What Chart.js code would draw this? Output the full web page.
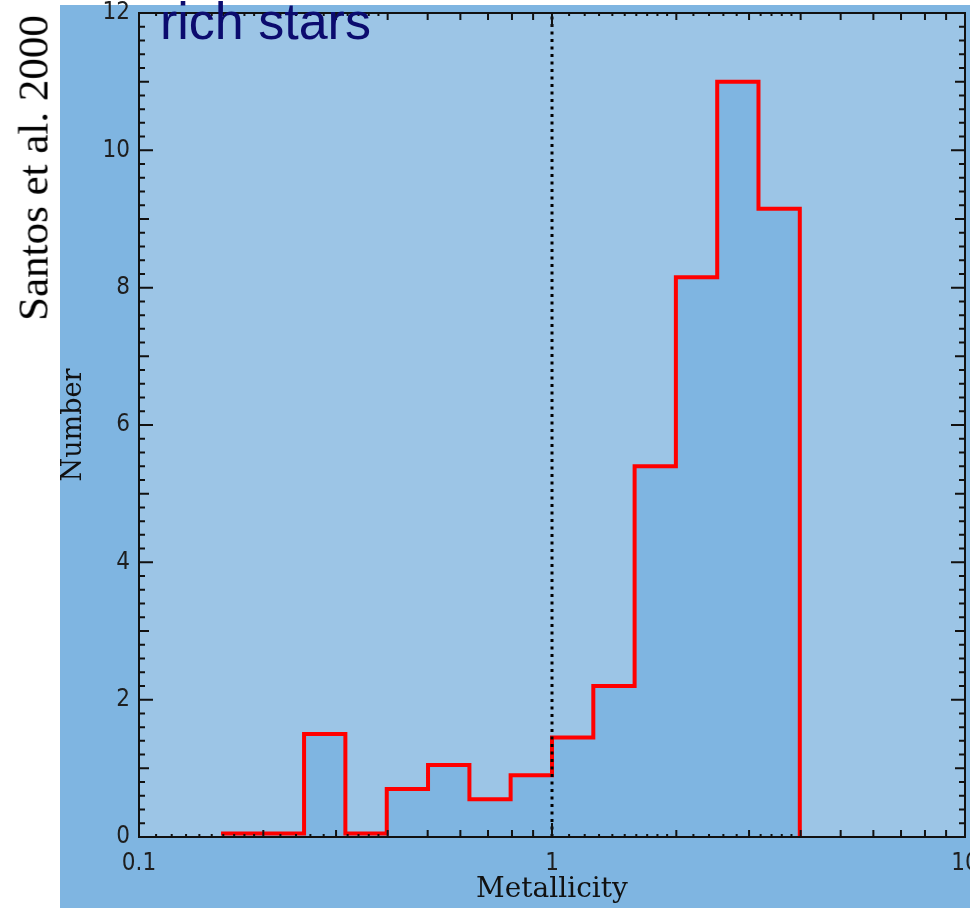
<!DOCTYPE html>
<html>
<head>
<meta charset="utf-8">
<script src="https://cdn.jsdelivr.net/npm/chart.js@4.4.0/dist/chart.umd.min.js"></script>
<style>
  html, body { margin: 0; padding: 0; background: #ffffff; }
  #wrap { position: relative; width: 970px; height: 908px; overflow: hidden; }
  #c { position: absolute; left: 0; top: 0; }
  .src {
    position: absolute; left: 33px; top: 168px;
    transform: translate(-50%, -50%) rotate(-90deg);
    font-family: 'Liberation Serif', 'Times New Roman', serif;
    font-size: 43px; line-height: 1; white-space: nowrap; color: #000;
  }
  .note {
    position: absolute; left: 160px; top: -5px;
    font-family: 'Liberation Sans', Arial, sans-serif;
    font-size: 52px; line-height: 1; white-space: nowrap; color: #0b0b6e;
  }
</style>
</head>
<body>
<div id="wrap">
  <canvas id="c" width="970" height="908"></canvas>
  <div class="src">Santos et al. 2000</div>
  <div class="note">rich stars</div>
</div>
<script>
// Metallicity histogram bins (0.1 dex wide, edges in solar units)
const binEdges = [0.158, 0.200, 0.251, 0.316, 0.398, 0.501, 0.631, 0.794,
                  1.000, 1.259, 1.585, 1.995, 2.512, 3.162, 3.981];
// Number of stars per bin
const counts = [0.05, 0.05, 1.5, 0.05, 0.7, 1.05, 0.55, 0.9,
                1.45, 2.2, 5.4, 8.15, 11.0, 9.15];
// Axis ticks
const xTickValues = [0.1, 1, 10];
const yTickValues = [0, 2, 4, 6, 8, 10, 12];
// Solar metallicity marker
const solarValue = 1;

const OUTER_BLUE = '#7fb5e1';
const INNER_BLUE = '#9cc5e6';
const TICK_FONT = { family: "'Liberation Sans Narrow', 'DejaVu Sans Condensed', sans-serif", size: 24 };

// Step outline: each bin value holds from its left edge to the next edge
const histPoints = counts.map((v, i) => ({ x: binEdges[i], y: v }));
histPoints.push({ x: binEdges[binEdges.length - 1], y: 0 });

const backdrop = {
  id: 'backdrop',
  beforeDraw(chart) {
    const { ctx, chartArea: a } = chart;
    ctx.save();
    ctx.fillStyle = '#ffffff';
    ctx.fillRect(0, 0, chart.width, chart.height);
    ctx.fillStyle = OUTER_BLUE;
    ctx.fillRect(60, 5, chart.width - 60, chart.height - 5);
    ctx.fillStyle = INNER_BLUE;
    ctx.fillRect(a.left, a.top, a.right - a.left, a.bottom - a.top);
    ctx.restore();
  }
};

// Frame and inward-pointing tick marks on all four sides
const frameTicks = {
  id: 'frameTicks',
  afterDatasetsDraw(chart) {
    const { ctx, chartArea: a, scales: { x, y } } = chart;
    ctx.save();
    ctx.strokeStyle = '#111';
    ctx.lineWidth = 2;
    ctx.strokeRect(a.left, a.top, a.right - a.left, a.bottom - a.top);

    const xt = [];
    [0.1, 1].forEach(d => {
      xt.push([d, 14]);
      for (let m = 2; m <= 9; m++) xt.push([d * m, 7]);
      for (let m = 1.1; m < 1.95; m += 0.1) xt.push([d * m, 3]);
      [2.2, 2.4, 2.6, 2.8, 3.2, 3.4, 3.6, 3.8].forEach(m => xt.push([d * m, 3]));
    });
    xt.push([10, 14]);
    ctx.beginPath();
    xt.forEach(([v, len]) => {
      const px = x.getPixelForValue(v);
      ctx.moveTo(px, a.bottom); ctx.lineTo(px, a.bottom - len);
      ctx.moveTo(px, a.top); ctx.lineTo(px, a.top + len);
    });
    for (let k = 0; k <= 60; k++) {
      const v = k / 5;
      const len = k % 10 === 0 ? 14 : (k % 5 === 0 ? 10 : 6);
      const py = y.getPixelForValue(v);
      ctx.moveTo(a.left, py); ctx.lineTo(a.left + len, py);
      ctx.moveTo(a.right, py); ctx.lineTo(a.right - len, py);
    }
    ctx.stroke();
    ctx.restore();
  }
};

new Chart(document.getElementById('c'), {
  type: 'line',
  data: {
    datasets: [
      {
        data: [{ x: solarValue, y: 0 }, { x: solarValue, y: 12 }],
        borderColor: '#000',
        borderWidth: 3,
        borderDash: [3, 4.5],
        pointRadius: 0,
        fill: false
      },
      {
        data: histPoints,
        stepped: true,
        borderColor: '#ff0000',
        borderWidth: 4,
        backgroundColor: OUTER_BLUE,
        fill: 'origin',
        pointRadius: 0,
        borderJoinStyle: 'miter'
      }
    ]
  },
  options: {
    responsive: false,
    animation: false,
    events: [],
    layout: { padding: { left: 60, top: 13, right: 5, bottom: 0 } },
    plugins: { legend: { display: false }, tooltip: { enabled: false } },
    scales: {
      x: {
        type: 'logarithmic',
        min: 0.1, max: 10,
        grid: { display: false, drawTicks: false },
        border: { display: false },
        afterBuildTicks(scale) { scale.ticks = xTickValues.map(v => ({ value: v })); },
        afterFit(scale) { scale.height = 71; scale.paddingLeft = 0; scale.paddingRight = 0; },
        ticks: {
          autoSkip: false, maxRotation: 0, padding: 12,
          color: '#1e1e1e', font: TICK_FONT,
          callback: v => String(v)
        },
        title: {
          display: true, text: 'Metallicity', color: '#111',
          font: { family: "'DejaVu Serif', serif", size: 28, lineHeight: 1 },
          padding: { top: 0, bottom: 4 }
        }
      },
      y: {
        type: 'linear',
        min: 0, max: 12,
        grid: { display: false, drawTicks: false },
        border: { display: false },
        afterBuildTicks(scale) { scale.ticks = yTickValues.map(v => ({ value: v })); },
        afterFit(scale) { scale.width = 79; scale.paddingTop = 0; scale.paddingBottom = 0; },
        ticks: {
          padding: 9, color: '#1e1e1e', font: TICK_FONT,
          callback: v => String(v)
        },
        title: {
          display: true, text: 'Number', color: '#111',
          font: { family: "'DejaVu Serif', serif", size: 27, lineHeight: 1 },
          padding: { top: 0, bottom: 0 }
        }
      }
    }
  },
  plugins: [backdrop, frameTicks]
});
</script>
</body>
</html>
